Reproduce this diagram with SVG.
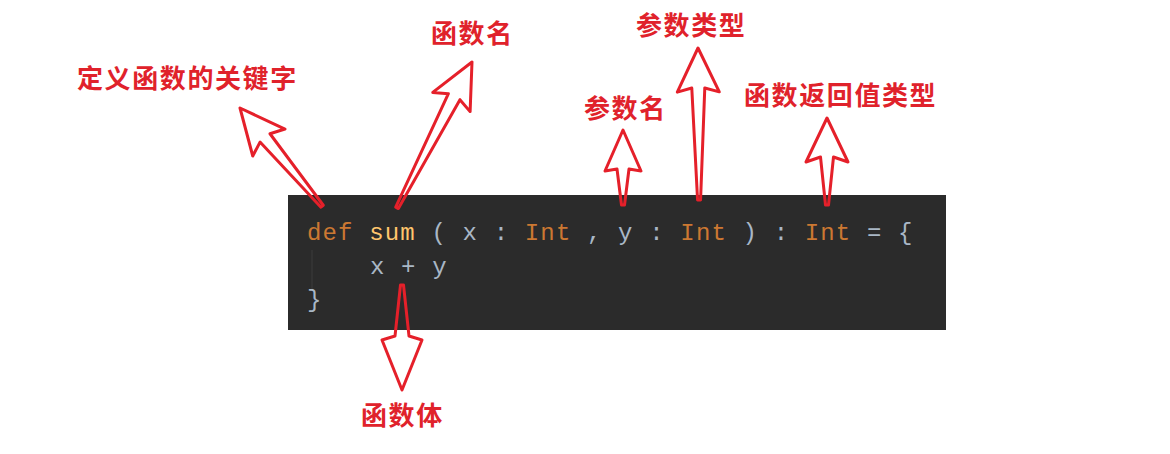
<svg xmlns="http://www.w3.org/2000/svg" width="1170" height="454" viewBox="0 0 1170 454">
<style>
.lbl{font-family:"Noto Sans CJK SC","Noto Sans",sans-serif;font-weight:700;font-size:26px;fill:#e0222b;letter-spacing:1.6px}
.code{font-family:"Liberation Mono","DejaVu Sans Mono",monospace;font-size:24px;letter-spacing:1.15px;fill:#a9b7c6}
.kw{fill:#cc7832}
.fn{fill:#ffc66d}
.arr{fill:none;stroke:#e5202a;stroke-width:3;stroke-linejoin:round}
</style>
<rect width="1170" height="454" fill="#ffffff"/>
<g id="code-block">
<rect x="288" y="195" width="658" height="135" fill="#2b2b2b"/>
<line x1="312" y1="250" x2="312" y2="290" stroke="#3d3d3d" stroke-width="1"/>
<text class="code" x="307" y="240"><tspan class="kw">def</tspan> <tspan class="fn">sum</tspan> ( x : <tspan class="kw">Int</tspan> , y : <tspan class="kw">Int</tspan> ) : <tspan class="kw">Int</tspan> = {</text>
<text class="code" x="370" y="274">x + y</text>
<text class="code" x="307" y="307">}</text>
</g>
<g id="connectors">
<polygon class="arr" transform="translate(240,108) rotate(-39.9)" points="0,0 21,45 6.5,39 1.5,128 -1.5,128 -6.5,39 -21,45"/>
<polygon class="arr" transform="translate(472,62) rotate(27.2)" points="0,0 21,45 6.5,39 1.5,164 -1.5,164 -6.5,39 -21,45"/>
<polygon class="arr" transform="translate(623,130)" points="0,0 18,41 6,39 1.5,75 -1.5,75 -6,39 -18,41"/>
<polygon class="arr" transform="translate(698,48) rotate(-0.4)" points="0,0 21,44 6.5,40 1.5,152 -1.5,152 -6.5,40 -21,44"/>
<polygon class="arr" transform="translate(827,118)" points="0,0 21,44 6.5,39 1.5,87 -1.5,87 -6.5,39 -21,44"/>
<polygon class="arr" transform="translate(402,390) rotate(180)" points="0,0 20,50 7,54 1.5,105 -1.5,105 -7,54 -20,50"/>
</g>
<g id="label-keyword"><text class="lbl" x="77" y="88">定义函数的关键字</text></g>
<g id="label-fname"><text class="lbl" x="431" y="43">函数名</text></g>
<g id="label-ptype"><text class="lbl" x="636" y="35">参数类型</text></g>
<g id="label-pname"><text class="lbl" x="584" y="118">参数名</text></g>
<g id="label-rtype"><text class="lbl" x="744" y="105">函数返回值类型</text></g>
<g id="label-body"><text class="lbl" x="361" y="425">函数体</text></g>
</svg>
